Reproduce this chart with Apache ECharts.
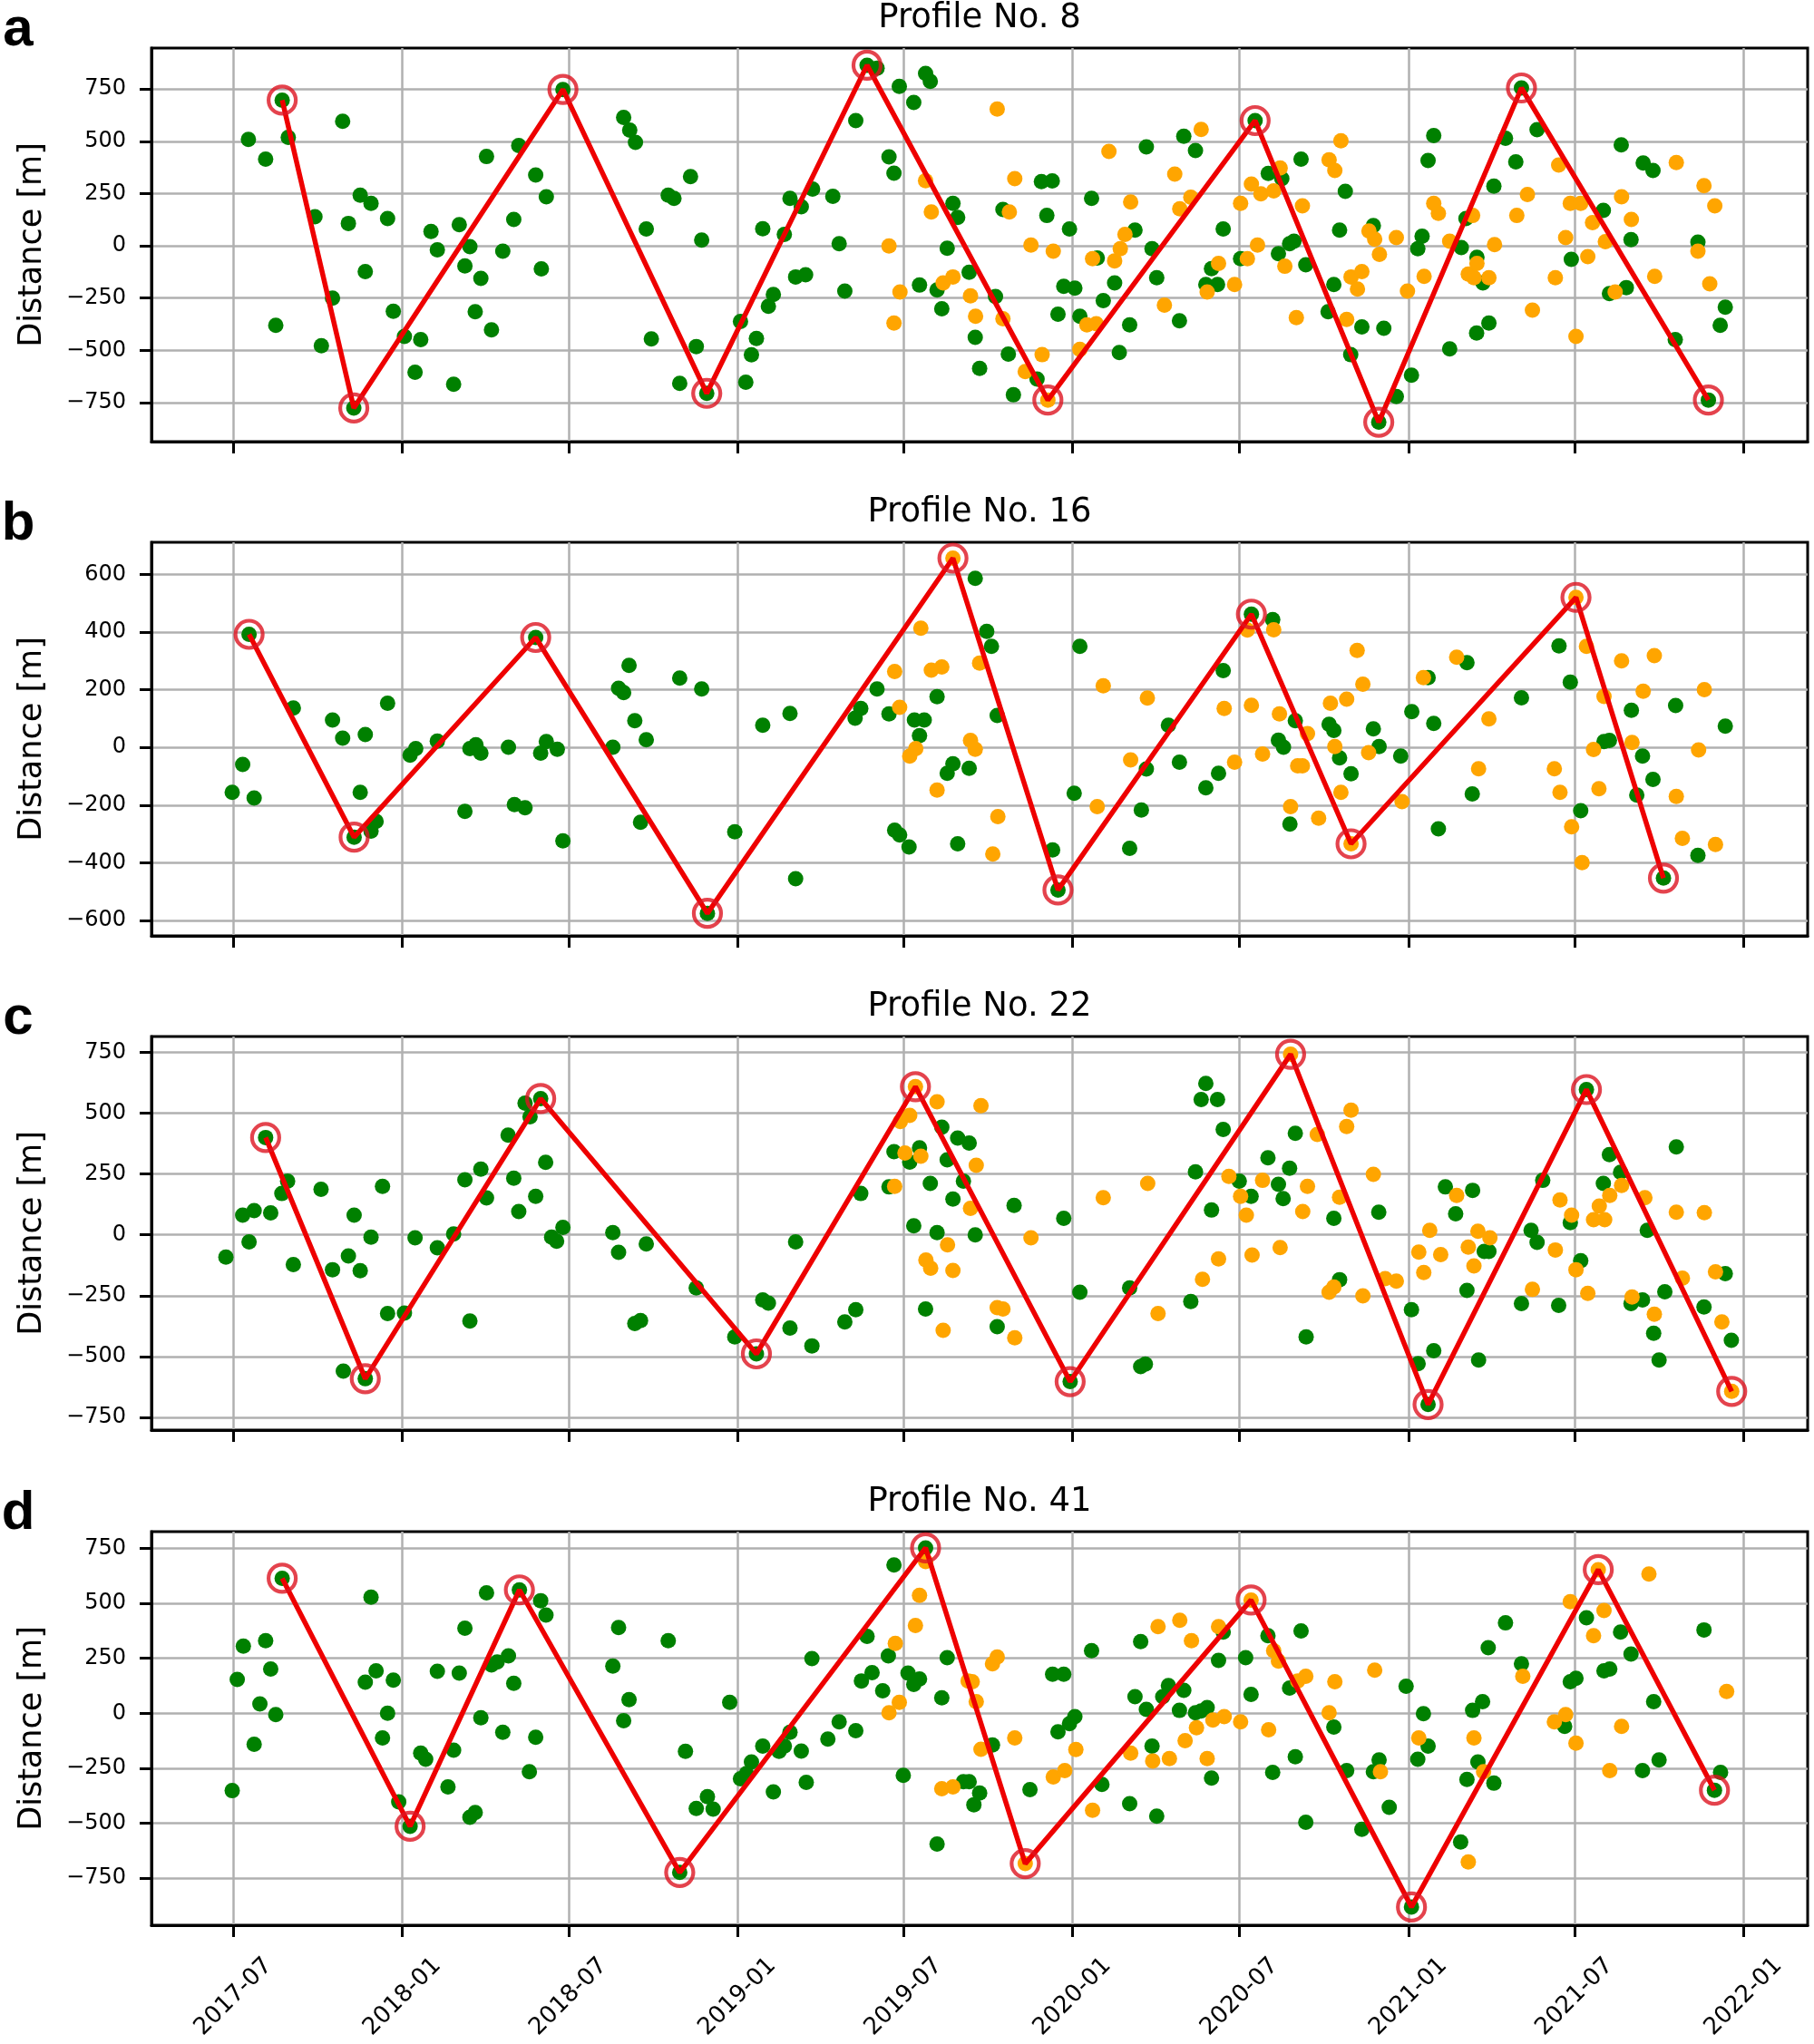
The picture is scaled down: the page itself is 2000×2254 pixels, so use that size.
<!DOCTYPE html>
<html>
<head>
<meta charset="utf-8">
<script src="https://cdn.jsdelivr.net/npm/echarts@6/dist/echarts.min.js"></script>
<style>html,body{margin:0;padding:0;background:#fff;}#chart{width:2000px;height:2254px;}</style>
</head>
<body>
<div id="chart"></div>
<script>
// ---- tick labels / categories ----
const xTickLabels = ['2017-07','2018-01','2018-07','2019-01','2019-07','2020-01','2020-07','2021-01','2021-07','2022-01'];
const panelTitles = ['Profile No. 8','Profile No. 16','Profile No. 22','Profile No. 41'];
const panelLetters = ['a','b','c','d'];
const yTicksA = [-750,-500,-250,0,250,500,750];
const yTicksB = [-600,-400,-200,0,200,400,600];
const yTicksC = [-750,-500,-250,0,250,500,750];
const yTicksD = [-750,-500,-250,0,250,500,750];
const yRangeA = [-937, 946];
const yRangeB = [-653, 711];
const yRangeC = [-802, 815];
const yRangeD = [-964, 826];
const xRange = [2017.253, 2022.193];

// ---- data: [decimal year, distance m] ----
const aGreen = [[2017.544,509],[2017.595,415],[2017.625,-381],[2017.644,697],[2017.662,519],[2017.741,139],[2017.760,-478],[2017.793,-250],[2017.823,596],[2017.840,107],[2017.856,-776],[2017.875,242],[2017.890,-123],[2017.907,203],[2017.956,130],[2017.973,-313],[2018.006,-434],[2018.038,-605],[2018.055,-449],[2018.086,68],[2018.105,-19],[2018.154,-663],[2018.171,101],[2018.188,-96],[2018.203,-4],[2018.219,-315],[2018.236,-156],[2018.253,427],[2018.268,-402],[2018.302,-26],[2018.335,126],[2018.350,480],[2018.401,339],[2018.418,-110],[2018.433,234],[2018.483,748],[2018.663,614],[2018.681,553],[2018.698,495],[2018.730,80],[2018.745,-446],[2018.795,242],[2018.812,227],[2018.829,-658],[2018.861,331],[2018.878,-482],[2018.894,27],[2018.909,-706],[2019.009,-362],[2019.025,-653],[2019.042,-522],[2019.057,-443],[2019.076,82],[2019.093,-289],[2019.108,-233],[2019.141,54],[2019.158,227],[2019.175,-149],[2019.192,187],[2019.205,-139],[2019.226,271],[2019.287,237],[2019.306,10],[2019.323,-217],[2019.356,599],[2019.390,864],[2019.420,849],[2019.456,425],[2019.471,347],[2019.487,763],
[2019.530,686],[2019.565,825],[2019.579,787],[2019.547,-188],[2019.599,-211],[2019.613,-301],[2019.629,-12],[2019.646,203],[2019.660,136],[2019.694,-127],[2019.712,-438],[2019.725,-587],[2019.772,-243],[2019.794,174],[2019.810,-518],[2019.825,-713],[2019.895,-638],[2019.908,307],[2019.924,145],[2019.940,310],[2019.957,-327],[2019.974,-194],[2019.991,80],[2020.007,-203],[2020.022,-337],[2020.057,227],[2020.074,-58],[2020.092,-262],[2020.126,-178],[2020.140,-511],[2020.171,-378],[2020.187,75],[2020.221,473],[2020.238,-14],[2020.252,-153],[2020.320,-359],[2020.333,524],[2020.368,456],[2020.399,-185],[2020.416,-109],[2020.434,-185],[2020.451,80],[2020.503,-62],[2020.546,599],[2020.585,346],[2020.615,-38],[2020.625,321],[2020.648,10],[2020.661,22],[2020.682,415],[2020.696,-91],[2020.762,-315],[2020.779,-185],[2020.796,75],[2020.813,260],[2020.829,-521],[2020.862,-388],[2020.896,97],[2020.912,-844],[2020.927,-395],[2020.964,-721],[2021.009,-619],[2021.028,-14],[2021.041,46],[2021.059,408],[2021.076,527],[2021.124,-493],[2021.159,-9],[2021.173,130],[2021.205,-417],[2021.206,-55],[2021.224,-178],[2021.242,-370],[2021.257,285],[2021.292,514],[2021.323,401],[2021.340,755],[2021.387,556],[2021.490,-65],[2021.585,169],[2021.603,-229],[2021.638,483],[2021.653,-200],[2021.667,29],[2021.703,396],[2021.732,360],[2021.798,-449],[2021.865,17],[2021.896,-738],[2021.931,-381],[2021.946,-294]];
const aOrange = [[2019.456,-1],[2019.471,-370],[2019.489,-221],[2019.565,311],[2019.582,162],[2019.617,-178],[2019.646,-149],[2019.698,-240],[2019.713,-337],[2019.777,654],[2019.794,-349],[2019.813,162],[2019.829,321],[2019.860,-602],[2019.877,3],[2019.910,-521],[2019.927,-738],[2019.943,-26],[2020.022,-496],[2020.043,-378],[2020.060,-62],[2020.071,-373],[2020.109,451],[2020.126,-72],[2020.143,-14],[2020.157,54],[2020.174,210],[2020.275,-284],[2020.306,343],[2020.321,177],[2020.354,232],[2020.385,557],[2020.403,-221],[2020.437,-84],[2020.485,-185],[2020.503,203],[2020.523,-62],[2020.535,295],[2020.553,3],[2020.563,249],[2020.601,263],[2020.620,372],[2020.634,-98],[2020.668,-344],[2020.686,191],[2020.765,411],[2020.782,360],[2020.800,502],[2020.817,-352],[2020.830,-149],[2020.849,-207],[2020.862,-123],[2020.883,71],[2020.900,32],[2020.914,-41],[2020.964,39],[2020.997,-217],[2021.047,-146],[2021.076,203],[2021.090,155],[2021.124,22],[2021.180,-135],[2021.193,145],[2021.197,-153],[2021.206,-84],[2021.242,-153],[2021.259,6],[2021.326,145],[2021.358,245],[2021.373,-308],[2021.442,-153],[2021.452,386],[2021.473,39],[2021.487,203],[2021.504,-434],[2021.518,203],[2021.539,-52],[2021.553,111],[2021.591,20],[2021.620,-221],[2021.639,234],[2021.668,126],[2021.737,-146],[2021.801,398],[2021.865,-26],[2021.883,288],[2021.900,-182],[2021.915,191]];
const aExtrema = [[2017.644,697],[2017.856,-776],[2018.483,748],[2018.909,-706],[2019.390,864],[2019.927,-738],[2020.546,599],[2020.912,-844],[2021.340,755],[2021.896,-738]];

const bGreen = [[2017.496,-156],[2017.527,-59],[2017.546,392],[2017.561,-175],[2017.677,137],[2017.793,95],[2017.823,32],[2017.857,-311],[2017.875,-156],[2017.890,45],[2017.907,-290],[2017.922,-256],[2017.956,153],[2018.023,-27],[2018.040,-4],[2018.105,22],[2018.188,-222],[2018.203,-4],[2018.221,9],[2018.236,-20],[2018.319,1],[2018.337,-198],[2018.369,-209],[2018.401,381],[2018.416,-20],[2018.433,20],[2018.466,-6],[2018.483,-324],[2018.631,1],[2018.648,205],[2018.663,190],[2018.679,284],[2018.696,93],[2018.713,-259],[2018.730,27],[2018.829,240],[2018.894,203],[2018.911,-575],[2018.992,-292],[2019.076,77],[2019.158,118],[2019.175,-455],[2019.354,101],[2019.371,135],[2019.420,203],[2019.456,116],[2019.473,-287],[2019.488,-303],
[2019.516,-345],[2019.532,95],[2019.561,95],[2019.547,41],[2019.599,176],[2019.629,-90],[2019.646,-57],[2019.660,-334],[2019.694,-72],[2019.712,586],[2019.746,402],[2019.760,350],[2019.777,111],[2019.941,-355],[2019.957,-494],[2020.005,-159],[2020.022,350],[2020.171,-350],[2020.206,-217],[2020.221,-75],[2020.287,77],[2020.320,-51],[2020.399,-140],[2020.437,-90],[2020.451,266],[2020.535,462],[2020.598,443],[2020.615,25],[2020.630,1],[2020.649,-266],[2020.665,93],[2020.765,80],[2020.779,59],[2020.796,-36],[2020.830,-91],[2020.896,64],[2020.913,3],[2020.977,-30],[2021.010,124],[2021.059,242],[2021.076,83],[2021.090,-282],[2021.176,294],[2021.192,-161],[2021.340,172],[2021.453,352],[2021.487,226],[2021.518,-219],[2021.587,20],[2021.603,24],[2021.668,129],[2021.684,-165],[2021.701,-30],[2021.732,-111],[2021.763,-453],[2021.799,145],[2021.865,-374],[2021.946,74]];
const bOrange = [[2019.473,263],[2019.488,139],[2019.518,-30],[2019.536,-4],[2019.551,413],[2019.582,268],[2019.613,279],[2019.599,-148],[2019.646,656],[2019.698,24],[2019.712,-6],[2019.725,292],[2019.764,-369],[2019.779,-240],[2020.074,-205],[2020.092,214],[2020.174,-43],[2020.224,171],[2020.454,135],[2020.485,-51],[2020.523,407],[2020.535,146],[2020.568,-23],[2020.601,408],[2020.618,116],[2020.651,-205],[2020.672,-64],[2020.686,-64],[2020.701,48],[2020.734,-245],[2020.769,153],[2020.782,3],[2020.800,-156],[2020.817,167],[2020.830,-334],[2020.848,336],[2020.865,219],[2020.882,-18],[2020.981,-188],[2021.045,242],[2021.145,313],[2021.211,-74],[2021.242,99],[2021.439,-74],[2021.456,-156],[2021.491,-275],[2021.504,520],[2021.522,-399],[2021.535,350],[2021.556,-7],[2021.572,-143],[2021.587,177],[2021.639,300],[2021.670,17],[2021.703,195],[2021.736,318],[2021.801,-170],[2021.819,-315],[2021.867,-9],[2021.884,200],[2021.917,-336]];
const bExtrema = [[2017.546,392],[2017.857,-311],[2018.401,381],[2018.911,-575],[2019.646,656],[2019.957,-494],[2020.535,462],[2020.830,-334],[2021.504,520],[2021.763,-453]];

const cGreen = [[2017.477,-91],[2017.527,81],[2017.546,-29],[2017.561,100],[2017.595,400],[2017.610,90],[2017.643,170],[2017.660,221],[2017.677,-122],[2017.759,187],[2017.793,-143],[2017.825,-560],[2017.840,-87],[2017.857,81],[2017.875,-147],[2017.890,-591],[2017.907,-9],[2017.941,199],[2017.956,-323],[2018.006,-321],[2018.038,-12],[2018.105,-53],[2018.154,4],[2018.188,226],[2018.203,-354],[2018.236,270],[2018.253,152],[2018.318,410],[2018.335,233],[2018.350,96],[2018.369,541],[2018.384,485],[2018.401,158],[2018.416,560],[2018.431,298],[2018.449,-9],[2018.464,-26],[2018.483,31],[2018.631,9],[2018.648,-72],[2018.696,-364],[2018.713,-352],[2018.730,-37],[2018.878,-218],[2018.992,-419],[2019.057,-489],[2019.076,-267],[2019.093,-280],[2019.158,-383],[2019.175,-29],[2019.224,-456],[2019.323,-358],[2019.356,-307],[2019.371,170],[2019.456,197],[2019.471,342],
[2019.518,299],[2019.530,37],[2019.547,358],[2019.565,-305],[2019.579,211],[2019.599,9],[2019.613,442],[2019.629,308],[2019.646,147],[2019.660,398],[2019.677,221],[2019.694,377],[2019.712,0],[2019.777,-377],[2019.827,121],[2019.974,68],[2019.993,-603],[2020.022,-236],[2020.171,-218],[2020.204,-541],[2020.218,-531],[2020.354,-274],[2020.368,259],[2020.399,622],[2020.385,556],[2020.434,556],[2020.416,102],[2020.451,433],[2020.499,221],[2020.534,158],[2020.584,317],[2020.615,208],[2020.629,149],[2020.648,274],[2020.665,417],[2020.697,-419],[2020.779,68],[2020.796,-184],[2020.912,93],[2021.009,-307],[2021.029,-529],[2021.059,-697],[2021.076,-476],[2021.111,197],[2021.142,87],[2021.176,-228],[2021.193,183],[2021.211,-514],[2021.228,-68],[2021.242,-68],[2021.340,-282],[2021.369,19],[2021.387,-31],[2021.404,224],[2021.452,-290],[2021.487,50],[2021.518,-106],[2021.535,597],[2021.585,211],[2021.603,330],[2021.636,257],[2021.667,-282],[2021.701,-267],[2021.715,19],[2021.734,-404],[2021.750,-514],[2021.767,-234],[2021.801,361],[2021.883,-296],[2021.946,-159],[2021.964,-433]];
const cOrange = [[2019.473,199],[2019.490,466],[2019.504,336],[2019.518,491],[2019.535,609],[2019.551,323],[2019.599,547],[2019.617,-392],[2019.630,-41],[2019.646,-146],[2019.698,109],[2019.715,286],[2019.729,531],[2019.566,-103],[2019.580,-137],[2019.777,-299],[2019.794,-305],[2019.829,-423],[2019.877,-12],[2020.092,153],[2020.225,211],[2020.256,-323],[2020.389,-183],[2020.437,-99],[2020.468,240],[2020.503,158],[2020.520,81],[2020.537,-83],[2020.568,224],[2020.620,-52],[2020.651,742],[2020.687,96],[2020.701,199],[2020.730,413],[2020.765,-236],[2020.779,-214],[2020.796,155],[2020.817,445],[2020.830,512],[2020.865,-251],[2020.896,249],[2020.931,-180],[2020.964,-190],[2021.031,-71],[2021.046,-155],[2021.064,19],[2021.097,-81],[2021.145,162],[2021.180,-50],[2021.197,-128],[2021.209,15],[2021.245,-12],[2021.373,-224],[2021.442,-62],[2021.456,143],[2021.491,81],[2021.504,-143],[2021.539,-240],[2021.556,62],[2021.573,118],[2021.589,62],[2021.604,162],[2021.639,203],[2021.670,-255],[2021.708,153],[2021.736,-326],[2021.801,93],[2021.819,-178],[2021.884,91],[2021.917,-152],[2021.936,-358],[2021.965,-643]];
const cExtrema = [[2017.595,400],[2017.890,-591],[2018.416,560],[2019.057,-489],[2019.535,609],[2019.993,-603],[2020.651,742],[2021.059,-697],[2021.535,597],[2021.965,-643]];

const dGreen = [[2017.496,-352],[2017.511,154],[2017.529,305],[2017.561,-141],[2017.578,42],[2017.595,330],[2017.610,201],[2017.625,-6],[2017.644,614],[2017.890,141],[2017.907,528],[2017.922,193],[2017.941,-112],[2017.956,0],[2017.973,151],[2017.989,-403],[2018.023,-514],[2018.055,-181],[2018.070,-209],[2018.105,191],[2018.137,-335],[2018.154,-168],[2018.171,183],[2018.188,387],[2018.203,-473],[2018.219,-452],[2018.236,-21],[2018.253,548],[2018.268,220],[2018.285,233],[2018.302,-87],[2018.319,261],[2018.335,136],[2018.352,561],[2018.382,-266],[2018.401,-109],[2018.416,512],[2018.432,447],[2018.631,215],[2018.648,390],[2018.663,-34],[2018.679,62],[2018.795,330],[2018.829,-724],[2018.846,-173],[2018.878,-433],[2018.911,-379],[2018.928,-436],[2018.977,50],[2019.009,-298],[2019.027,-274],[2019.042,-222],[2019.076,-149],[2019.108,-358],[2019.125,-173],[2019.141,-149],[2019.158,-87],[2019.192,-172],[2019.207,-314],[2019.224,249],[2019.272,-117],[2019.306,-39],[2019.356,-79],[2019.373,147],[2019.390,350],[2019.405,185],[2019.437,102],[2019.454,261],[2019.471,674],[2019.499,-282],
[2019.513,183],[2019.530,131],[2019.547,156],[2019.565,752],[2019.599,-595],[2019.613,70],[2019.629,253],[2019.677,-311],[2019.694,-311],[2019.708,-416],[2019.725,-363],[2019.763,-144],[2019.874,-347],[2019.941,177],[2019.957,-84],[2019.974,177],[2019.991,-47],[2020.007,-15],[2020.057,285],[2020.088,-324],[2020.171,-411],[2020.187,75],[2020.204,326],[2020.221,18],[2020.238,-149],[2020.252,-468],[2020.270,75],[2020.287,126],[2020.320,13],[2020.333,104],[2020.368,2],[2020.385,10],[2020.403,26],[2020.416,-295],[2020.437,240],[2020.451,369],[2020.518,253],[2020.534,86],[2020.584,353],[2020.598,-269],[2020.648,115],[2020.665,-198],[2020.682,374],[2020.696,-496],[2020.779,-63],[2020.817,-261],[2020.862,-528],[2020.896,-266],[2020.913,-212],[2020.943,-428],[2020.993,123],[2021.009,-881],[2021.028,-209],[2021.045,-2],[2021.059,-149],[2021.157,-586],[2021.176,-301],[2021.193,13],[2021.209,-222],[2021.223,53],[2021.240,298],[2021.257,-318],[2021.292,411],[2021.340,225],[2021.470,-60],[2021.487,143],[2021.504,159],[2021.535,434],[2021.587,193],[2021.604,201],[2021.636,369],[2021.667,269],[2021.701,-261],[2021.734,53],[2021.750,-212],[2021.883,379],[2021.914,-350],[2021.932,-269]];
const dOrange = [[2019.456,2],[2019.475,318],[2019.487,50],[2019.535,399],[2019.547,536],[2019.565,690],[2019.613,-343],[2019.646,-335],[2019.691,147],[2019.703,143],[2019.715,53],[2019.729,-164],[2019.763,225],[2019.777,256],[2019.829,-112],[2019.860,-684],[2019.943,-290],[2019.977,-261],[2020.010,-165],[2020.060,-441],[2020.174,-181],[2020.240,-217],[2020.256,394],[2020.290,-206],[2020.321,423],[2020.337,-125],[2020.356,330],[2020.371,-66],[2020.403,-206],[2020.420,-31],[2020.437,394],[2020.454,-15],[2020.503,-39],[2020.534,515],[2020.586,-75],[2020.601,285],[2020.615,237],[2020.672,147],[2020.696,168],[2020.765,2],[2020.782,143],[2020.900,196],[2020.917,-266],[2021.031,-112],[2021.180,-676],[2021.197,-112],[2021.226,-266],[2021.344,168],[2021.439,-39],[2021.473,-6],[2021.487,507],[2021.504,-136],[2021.556,353],[2021.570,653],[2021.587,467],[2021.604,-261],[2021.639,-60],[2021.720,633],[2021.950,99]];
const dExtrema = [[2017.644,614],[2018.023,-514],[2018.352,561],[2018.829,-724],[2019.565,752],[2019.860,-684],[2020.534,515],[2021.009,-881],[2021.570,653],[2021.914,-350]];

// ---- helpers ----
function yearToMs(y) {
  const Y = Math.floor(y), f = y - Y;
  const j1 = Date.UTC(Y,0,1), h = Date.UTC(Y,6,1), n = Date.UTC(Y+1,0,1);
  return f < 0.5 ? j1 + (f/0.5)*(h-j1) : h + ((f-0.5)/0.5)*(n-h);
}
function labelToMs(s) { const p = s.split('-'); return Date.UTC(+p[0], +p[1]-1, 1); }
function conv(arr) { return arr.map(p => [yearToMs(p[0]), p[1]]); }

const xTickMs = xTickLabels.map(labelToMs);
const panels = [
  {green:aGreen, orange:aOrange, ext:aExtrema, yr:yRangeA, yt:yTicksA, top:53},
  {green:bGreen, orange:bOrange, ext:bExtrema, yr:yRangeB, yt:yTicksB, top:598},
  {green:cGreen, orange:cOrange, ext:cExtrema, yr:yRangeC, yt:yTicksC, top:1143},
  {green:dGreen, orange:dOrange, ext:dExtrema, yr:yRangeD, yt:yTicksD, top:1689}
];
const GL = 167, GW = 1826, GH = 434;
const gridColor = '#b0b0b0';
const font = "'DejaVu Sans', sans-serif";

function fmtX(v) {
  let best = 0, bd = Infinity;
  xTickMs.forEach((t, k) => { const d = Math.abs(t - v); if (d < bd) { bd = d; best = k; } });
  return xTickLabels[best];
}

const grids = [], xAxes = [], yAxes = [], series = [], graphics = [];
panels.forEach((p, i) => {
  grids.push({left: GL, top: p.top, width: GW, height: GH, show: true, borderColor: '#000', borderWidth: 3, backgroundColor: 'transparent', containLabel: false, outerBoundsMode: 'none'});
  xAxes.push({
    type: 'value', gridIndex: i, min: yearToMs(xRange[0]), max: yearToMs(xRange[1]), scale: true,
    axisLine: {show: true, onZero: false, lineStyle: {color: '#000', width: 3}},
    axisTick: {show: true, length: 13, inside: false, lineStyle: {color: '#000', width: 3}, customValues: xTickMs},
    axisLabel: {show: i === 3, customValues: xTickMs, rotate: 45, align: 'center', verticalAlign: 'middle', margin: 79,
      fontSize: 26, fontFamily: font, color: '#000', hideOverlap: false, formatter: fmtX},
    splitLine: {show: true, lineStyle: {color: gridColor, width: 2.5}},
    minorTick: {show: false}, minorSplitLine: {show: false}
  });
  yAxes.push({
    type: 'value', gridIndex: i, min: p.yr[0], max: p.yr[1],
    axisLine: {show: true, onZero: false, lineStyle: {color: '#000', width: 3}},
    axisTick: {show: true, length: 13, inside: false, lineStyle: {color: '#000', width: 3}, customValues: p.yt},
    axisLabel: {show: true, customValues: p.yt, margin: 28, fontSize: 24, fontFamily: font, color: '#000',
      formatter: function (v) { return v < 0 ? '\u2212' + Math.abs(v) : String(v); }},
    splitLine: {show: true, lineStyle: {color: gridColor, width: 2.5}}
  });
  series.push({type: 'scatter', xAxisIndex: i, yAxisIndex: i, data: conv(p.green), symbolSize: 17, itemStyle: {color: '#008000', opacity: 1}, z: 2, silent: true});
  series.push({type: 'scatter', xAxisIndex: i, yAxisIndex: i, data: conv(p.orange), symbolSize: 17, itemStyle: {color: '#ffa500', opacity: 1}, z: 2, silent: true});
  series.push({type: 'line', xAxisIndex: i, yAxisIndex: i, data: conv(p.ext), showSymbol: false, symbol: 'none', lineStyle: {color: '#ee0000', width: 5.5}, z: 3, silent: true});
  series.push({type: 'scatter', xAxisIndex: i, yAxisIndex: i, data: conv(p.ext), symbolSize: 30, itemStyle: {color: 'rgba(0,0,0,0)', borderColor: '#dd1420', borderWidth: 4.2}, z: 4, silent: true});
  const cy = p.top + GH / 2;
  graphics.push({type: 'text', x: 1080, y: p.top - 33, style: {text: panelTitles[i], fontSize: 37, fontFamily: font, fill: '#000', align: 'center', verticalAlign: 'middle'}});
  graphics.push({type: 'text', x: 36, y: cy, rotation: Math.PI / 2, style: {text: 'Distance [m]', fontSize: 35, fontFamily: font, fill: '#000', align: 'center', verticalAlign: 'middle'}});
  graphics.push({type: 'text', x: 20, y: p.top - 20, style: {text: panelLetters[i], fontSize: 60, fontWeight: 'bold', fontFamily: "'Liberation Sans', Arial, sans-serif", fill: '#000', align: 'center', verticalAlign: 'middle'}});
});

const chart = echarts.init(document.getElementById('chart'), null, {renderer: 'canvas', width: 2000, height: 2254});
chart.setOption({
  animation: false,
  backgroundColor: '#fff',
  grid: grids, xAxis: xAxes, yAxis: yAxes, series: series, graphic: graphics
});
</script>
</body>
</html>
